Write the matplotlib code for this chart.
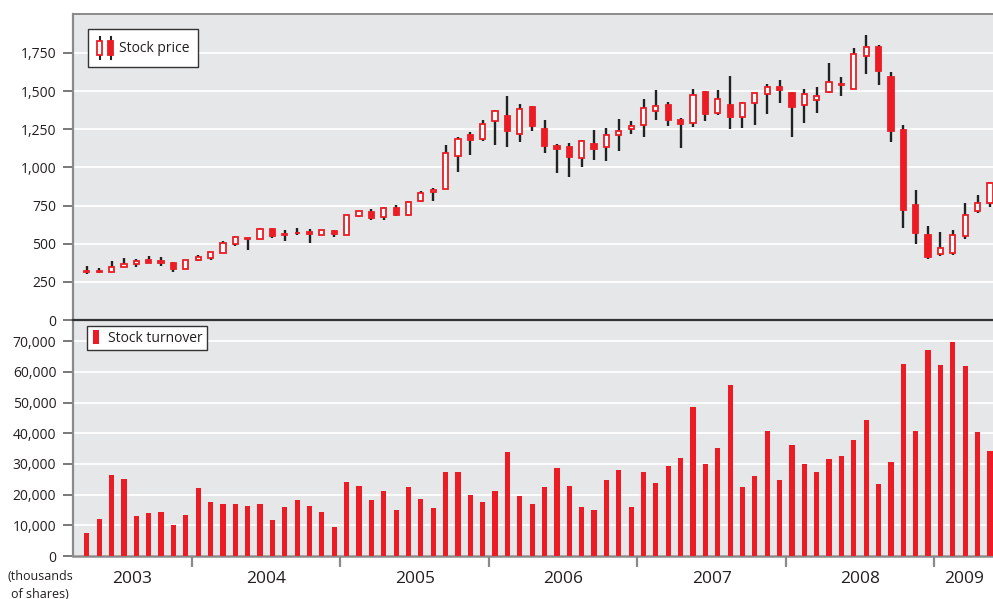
import numpy as np
import matplotlib
matplotlib.use('Agg')
import matplotlib.pyplot as plt
from matplotlib.patches import Rectangle
from matplotlib.lines import Line2D
from matplotlib.legend_handler import HandlerBase

plt.rcParams['font.family'] = ['Open Sans', 'DejaVu Sans']

# monthly data, April 2003 .. May 2009
years = ['2003', '2004', '2005', '2006', '2007', '2008', '2009']
months_per_year = [9, 12, 12, 12, 12, 12, 5]

price_open = [315, 318, 316, 350, 365, 392, 385, 374, 332,
              392, 409, 442, 500, 535, 532, 599, 565, 573, 579, 558, 586,
              556, 680, 708, 672, 732, 691, 778, 839, 858, 1075, 1212, 1184,
              1305, 1338, 1218, 1396, 1253, 1138, 1135, 1064, 1155, 1133, 1209, 1254,
              1276, 1367, 1408, 1311, 1291, 1492, 1356, 1411, 1328, 1419, 1480, 1528,
              1489, 1408, 1441, 1491, 1547, 1515, 1733, 1790, 1593, 1248, 752, 556,
              430, 441, 548, 713, 767]
price_high = [356, 338, 389, 403, 398, 420, 416, 380, 394,
              425, 445, 518, 550, 540, 600, 600, 590, 603, 597, 590, 588,
              688, 717, 727, 740, 753, 778, 843, 867, 1147, 1197, 1233, 1309,
              1377, 1465, 1416, 1403, 1309, 1151, 1157, 1181, 1248, 1259, 1315, 1304,
              1449, 1510, 1428, 1321, 1512, 1503, 1510, 1602, 1430, 1489, 1544, 1572,
              1496, 1515, 1528, 1681, 1594, 1783, 1868, 1801, 1624, 1276, 854, 613,
              576, 589, 765, 820, 904]
price_low = [301, 305, 312, 350, 345, 372, 354, 316, 332,
             389, 394, 442, 482, 460, 530, 536, 520, 558, 506, 556, 545,
             556, 674, 655, 652, 682, 683, 774, 778, 858, 971, 1082, 1171,
             1147, 1134, 1168, 1238, 1097, 965, 940, 1005, 1046, 1042, 1109, 1222,
             1198, 1313, 1274, 1127, 1267, 1306, 1345, 1251, 1258, 1280, 1350, 1421,
             1197, 1293, 1354, 1487, 1467, 1515, 1611, 1541, 1167, 604, 498, 398,
             417, 424, 528, 702, 741]
price_close = [320, 315, 350, 365, 389, 372, 372, 334, 394,
               416, 445, 507, 542, 530, 597, 551, 555, 568, 562, 588, 562,
               685, 712, 670, 732, 690, 776, 835, 854, 1097, 1186, 1177, 1285,
               1370, 1236, 1381, 1268, 1138, 1121, 1070, 1172, 1118, 1211, 1239, 1269,
               1389, 1402, 1313, 1287, 1473, 1352, 1447, 1328, 1422, 1485, 1528, 1504,
               1393, 1483, 1467, 1559, 1540, 1742, 1786, 1629, 1239, 724, 567, 411,
               470, 559, 689, 765, 896]
turnover = [7400, 11900, 26500, 25200, 12900, 13850, 14500, 9960, 13500,
            22300, 17750, 16800, 16800, 16450, 16800, 11600, 16100, 18400, 16450, 14200, 9300,
            24200, 22900, 18100, 21300, 15150, 22600, 18700, 15500, 27500, 27500, 20000, 17750,
            21300, 34000, 19400, 17100, 22600, 28800, 22900, 16100, 15150, 24900, 28100, 16100,
            27500, 23900, 29400, 32000, 48600, 30100, 35300, 55700, 22600, 26200, 40800, 24900,
            36300, 30100, 27500, 31700, 32700, 37900, 44400, 23600, 30700, 62600, 40800, 67100,
            62200, 69700, 61900, 40500, 34300]

RED = '#ed1c24'
BG = '#e6e7e9'
SPINE = '#8a8a8a'
TXT = '#231f20'

o = np.array(price_open, float)
h = np.array(price_high, float)
l = np.array(price_low, float)
c = np.array(price_close, float)
x = np.arange(len(o))

fig = plt.figure(figsize=(9.93, 5.99), dpi=100)
ax1 = fig.add_axes([73/993, 1-320/599, 1-73/993, (320-14)/599])
ax2 = fig.add_axes([73/993, 1-556/599, 1-73/993, (556-320)/599])

xmin, xmax = -1.12, 73.25
for ax in (ax1, ax2):
    ax.set_facecolor(BG)
    ax.set_xlim(xmin, xmax)
    ax.spines['right'].set_visible(False)
    ax.spines['left'].set_color(SPINE)
    ax.spines['left'].set_linewidth(1.6)
    ax.tick_params(axis='y', direction='out', length=7, width=1.1, color='#555555',
                   labelsize=10, labelcolor=TXT, pad=5)
    ax.grid(axis='y', color='white', linewidth=1.3)
    ax.set_axisbelow(True)

# --- price candles
ax1.vlines(x, l, h, color='#222222', linewidth=1.7, zorder=2)
up = c >= o
body_h = np.maximum(np.abs(c - o), 4)
body_b = np.minimum(o, c)
ax1.bar(x[up], body_h[up], bottom=body_b[up], width=0.42, color='white',
        edgecolor=RED, linewidth=1.3, zorder=3)
ax1.bar(x[~up], body_h[~up], bottom=body_b[~up], width=0.42, color=RED,
        edgecolor=RED, linewidth=1.3, zorder=3)

ax1.set_ylim(0, 2005)
ax1.set_yticks(np.arange(0, 1751, 250))
ax1.set_yticklabels([f'{v:,}' for v in range(0, 1751, 250)])
ax1.set_xticks([])
ax1.spines['top'].set_color(SPINE)
ax1.spines['top'].set_linewidth(1.4)
ax1.spines['bottom'].set_visible(False)

# --- turnover bars
ax2.bar(x, turnover, width=0.42, color=RED, zorder=3)
ax2.set_ylim(0, 76900)
ax2.set_yticks(np.arange(0, 70001, 10000))
ax2.set_yticklabels([f'{v:,}' for v in range(0, 70001, 10000)])
ax2.spines['top'].set_color('#333333')
ax2.spines['top'].set_linewidth(1.6)
ax2.spines['bottom'].set_color(SPINE)
ax2.spines['bottom'].set_linewidth(1.8)

starts = np.cumsum([0] + months_per_year[:-1]) - 0.5
bounds = starts[1:]
ax2.set_xticks(bounds)
ax2.set_xticklabels([])
ax2.tick_params(axis='x', which='major', direction='out', length=8, width=1.6, color=SPINE)
edges = np.concatenate([[xmin], bounds, [xmax]])
centers = (edges[:-1] + edges[1:]) / 2
ax2.set_xticks(centers, minor=True)
ax2.set_xticklabels(years, minor=True)
ax2.tick_params(axis='x', which='minor', length=0, pad=11, labelsize=12.5, labelcolor=TXT)

fig.text(40/993, 1-570/599, '(thousands\nof shares)', ha='center', va='top',
         fontsize=9, color=TXT, linespacing=1.45)


# --- legends
class CandleHandler(HandlerBase):
    def create_artists(self, legend, orig_handle, xdescent, ydescent, width, height,
                       fontsize, trans):
        arts = []
        x0, y0 = -xdescent, -ydescent
        bw = width * 0.28
        for k, fill in enumerate(['white', RED]):
            cx = x0 + width * (0.2 + 0.6 * k)
            arts.append(Line2D([cx, cx], [y0, y0 + height], color='#222222',
                               linewidth=1.5, transform=trans))
            arts.append(Rectangle((cx - bw / 2, y0 + 0.16 * height), bw, 0.68 * height,
                                  facecolor=fill, edgecolor=RED, linewidth=1.3,
                                  transform=trans))
        return arts


class BarHandler(HandlerBase):
    def create_artists(self, legend, orig_handle, xdescent, ydescent, width, height,
                       fontsize, trans):
        x0, y0 = -xdescent, -ydescent
        bw = width * 0.55
        return [Rectangle((x0 + (width - bw) / 2, y0), bw, height, facecolor=RED,
                          edgecolor='none', transform=trans)]


leg1 = ax1.legend([object()], ['Stock price'], handler_map={object: CandleHandler()},
                  loc='upper left', bbox_to_anchor=(0.0163, 0.951), borderaxespad=0,
                  fontsize=10, handlelength=1.3, handleheight=2.0, handletextpad=0.35,
                  borderpad=0.6, fancybox=False, framealpha=1, edgecolor='#333333')
leg1.get_frame().set_linewidth(1.0)
for t in leg1.get_texts():
    t.set_color(TXT)

class _Tv:  # marker type for the turnover legend handle
    pass

leg2 = ax2.legend([_Tv()], ['Stock turnover'], handler_map={_Tv: BarHandler()},
                  loc='upper left', bbox_to_anchor=(0.0152, 0.975), borderaxespad=0,
                  fontsize=10, handlelength=0.7, handleheight=1.2, handletextpad=0.5,
                  borderpad=0.3, fancybox=False, framealpha=1, edgecolor='#333333')
leg2.get_frame().set_linewidth(1.0)
for t in leg2.get_texts():
    t.set_color(TXT)

fig.savefig('out.png', dpi=100)
